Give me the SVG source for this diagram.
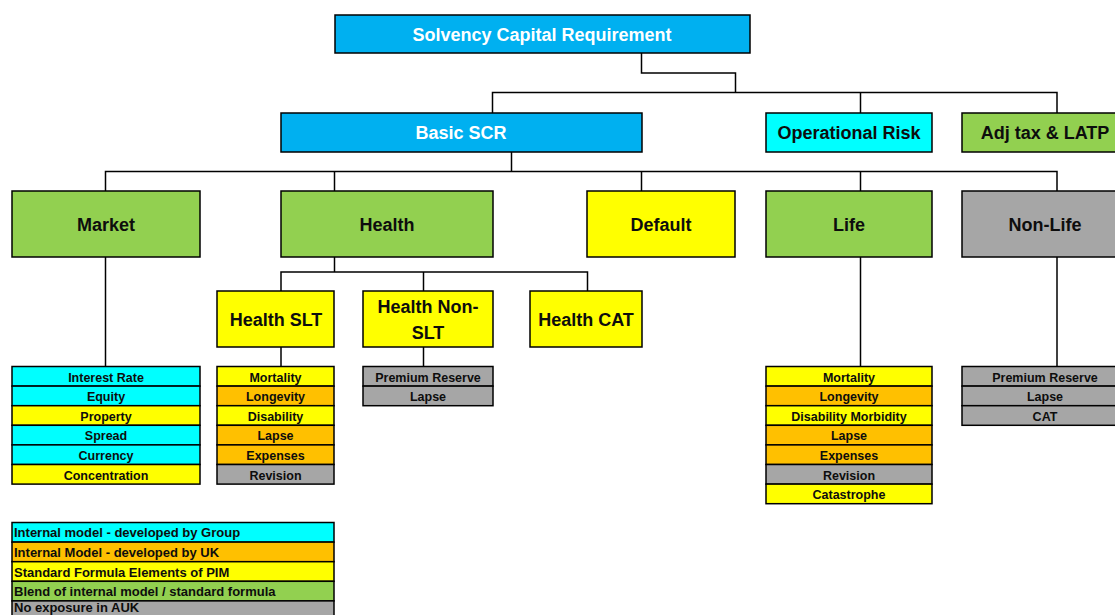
<svg xmlns="http://www.w3.org/2000/svg" width="1115" height="615" viewBox="0 0 1115 615">
<style>
.b{stroke:#000;stroke-width:1.5}
.blue{fill:#00B0F0}.cyan{fill:#00FFFF}.green{fill:#92D050}.yellow{fill:#FFFF00}.gray{fill:#A6A6A6}.orange{fill:#FFC000}
.t{font-family:"Liberation Sans",Arial,sans-serif;font-weight:bold;font-size:18px;fill:#0d0d0d;text-anchor:middle}
.w{fill:#fff}
.r{font-family:"Liberation Sans",Arial,sans-serif;font-weight:bold;font-size:12.5px;fill:#0d0d0d;text-anchor:middle}
.l{font-family:"Liberation Sans",Arial,sans-serif;font-weight:bold;font-size:13px;fill:#0d0d0d}
.c{fill:none;stroke:#000;stroke-width:1.5}
</style>
<rect width="1115" height="615" fill="#fff"/>
<g id="connectors">
<polyline class="c" points="641.5,53 641.5,73 735.5,73 735.5,92"/>
<polyline class="c" points="492.5,113 492.5,92.5 1057,92.5 1057,113"/>
<line class="c" x1="860.5" y1="92.5" x2="860.5" y2="113"/>
<line class="c" x1="511.5" y1="152" x2="511.5" y2="171.5"/>
<polyline class="c" points="105.5,191 105.5,171.5 1057,171.5 1057,191"/>
<line class="c" x1="334.5" y1="171.5" x2="334.5" y2="191"/>
<line class="c" x1="641.5" y1="171.5" x2="641.5" y2="191"/>
<line class="c" x1="860.5" y1="171.5" x2="860.5" y2="191"/>
<line class="c" x1="334.5" y1="257" x2="334.5" y2="272"/>
<polyline class="c" points="281,291 281,272 587.5,272 587.5,291"/>
<line class="c" x1="423.5" y1="272" x2="423.5" y2="291"/>
<line class="c" x1="105.5" y1="257" x2="105.5" y2="366"/>
<line class="c" x1="281" y1="347" x2="281" y2="366"/>
<line class="c" x1="423.5" y1="347" x2="423.5" y2="366"/>
<line class="c" x1="860.5" y1="257" x2="860.5" y2="366"/>
<line class="c" x1="1057" y1="257" x2="1057" y2="366"/>
</g>
<g id="scr"><rect class="b blue" x="335" y="15" width="415" height="38"/><text class="t w" x="542" y="40.5">Solvency Capital Requirement</text></g>
<g id="basic-scr"><rect class="b blue" x="281" y="113" width="361" height="39"/><text class="t w" x="461" y="139">Basic SCR</text></g>
<g id="operational-risk"><rect class="b cyan" x="766" y="113" width="166" height="39"/><text class="t" x="849" y="139">Operational Risk</text></g>
<g id="adj-tax"><rect class="b green" x="962" y="113" width="166" height="39"/><text class="t" x="1045" y="139">Adj tax &amp; LATP</text></g>
<g id="market"><rect class="b green" x="12" y="191" width="188" height="66"/><text class="t" x="106" y="230.5">Market</text></g>
<g id="health"><rect class="b green" x="281" y="191" width="212" height="66"/><text class="t" x="387" y="230.5">Health</text></g>
<g id="default"><rect class="b yellow" x="587" y="191" width="148" height="66"/><text class="t" x="661" y="230.5">Default</text></g>
<g id="life"><rect class="b green" x="766" y="191" width="166" height="66"/><text class="t" x="849" y="230.5">Life</text></g>
<g id="non-life"><rect class="b gray" x="962" y="191" width="166" height="66"/><text class="t" x="1045" y="230.5">Non-Life</text></g>
<g id="health-slt"><rect class="b yellow" x="217" y="291" width="117" height="56"/><text class="t" x="276" y="325.5">Health SLT</text></g>
<g id="health-non-slt"><rect class="b yellow" x="363" y="291" width="130" height="56"/><text class="t" x="428" y="313">Health Non-</text><text class="t" x="428" y="339">SLT</text></g>
<g id="health-cat"><rect class="b yellow" x="530" y="291" width="112" height="56"/><text class="t" x="586" y="325.5">Health CAT</text></g>
<g id="market-list">
<rect class="b cyan" x="12" y="366.5" width="188" height="19.6"/><text class="r" x="106" y="381.5">Interest Rate</text>
<rect class="b cyan" x="12" y="386.1" width="188" height="19.6"/><text class="r" x="106" y="401.1">Equity</text>
<rect class="b yellow" x="12" y="405.7" width="188" height="19.6"/><text class="r" x="106" y="420.7">Property</text>
<rect class="b cyan" x="12" y="425.3" width="188" height="19.6"/><text class="r" x="106" y="440.3">Spread</text>
<rect class="b cyan" x="12" y="444.9" width="188" height="19.6"/><text class="r" x="106" y="459.9">Currency</text>
<rect class="b yellow" x="12" y="464.5" width="188" height="19.6"/><text class="r" x="106" y="479.5">Concentration</text>
</g>
<g id="health-slt-list">
<rect class="b yellow" x="217" y="366.5" width="117" height="19.6"/><text class="r" x="275.5" y="381.5">Mortality</text>
<rect class="b orange" x="217" y="386.1" width="117" height="19.6"/><text class="r" x="275.5" y="401.1">Longevity</text>
<rect class="b yellow" x="217" y="405.7" width="117" height="19.6"/><text class="r" x="275.5" y="420.7">Disability</text>
<rect class="b orange" x="217" y="425.3" width="117" height="19.6"/><text class="r" x="275.5" y="440.3">Lapse</text>
<rect class="b orange" x="217" y="444.9" width="117" height="19.6"/><text class="r" x="275.5" y="459.9">Expenses</text>
<rect class="b gray" x="217" y="464.5" width="117" height="19.6"/><text class="r" x="275.5" y="479.5">Revision</text>
</g>
<g id="health-non-slt-list">
<rect class="b gray" x="363" y="366.5" width="130" height="19.6"/><text class="r" x="428" y="381.5">Premium Reserve</text>
<rect class="b gray" x="363" y="386.1" width="130" height="19.6"/><text class="r" x="428" y="401.1">Lapse</text>
</g>
<g id="life-list">
<rect class="b yellow" x="766" y="366.5" width="166" height="19.6"/><text class="r" x="849" y="381.5">Mortality</text>
<rect class="b orange" x="766" y="386.1" width="166" height="19.6"/><text class="r" x="849" y="401.1">Longevity</text>
<rect class="b yellow" x="766" y="405.7" width="166" height="19.6"/><text class="r" x="849" y="420.7">Disability Morbidity</text>
<rect class="b orange" x="766" y="425.3" width="166" height="19.6"/><text class="r" x="849" y="440.3">Lapse</text>
<rect class="b orange" x="766" y="444.9" width="166" height="19.6"/><text class="r" x="849" y="459.9">Expenses</text>
<rect class="b gray" x="766" y="464.5" width="166" height="19.6"/><text class="r" x="849" y="479.5">Revision</text>
<rect class="b yellow" x="766" y="484.1" width="166" height="19.6"/><text class="r" x="849" y="499.1">Catastrophe</text>
</g>
<g id="non-life-list">
<rect class="b gray" x="962" y="366.5" width="166" height="19.6"/><text class="r" x="1045" y="381.5">Premium Reserve</text>
<rect class="b gray" x="962" y="386.1" width="166" height="19.6"/><text class="r" x="1045" y="401.1">Lapse</text>
<rect class="b gray" x="962" y="405.7" width="166" height="19.6"/><text class="r" x="1045" y="420.7">CAT</text>
</g>
<g id="legend">
<rect class="b cyan" x="12" y="522.5" width="322" height="19.6"/><text class="l" x="14" y="537.3">Internal model - developed by Group</text>
<rect class="b orange" x="12" y="542.1" width="322" height="19.6"/><text class="l" x="14" y="556.9">Internal Model - developed by UK</text>
<rect class="b yellow" x="12" y="561.7" width="322" height="19.6"/><text class="l" x="14" y="576.5">Standard Formula Elements of PIM</text>
<rect class="b green" x="12" y="581.3" width="322" height="19.6"/><text class="l" x="14" y="596.1">Blend of internal model / standard formula</text>
<rect class="b gray" x="12" y="600.9" width="322" height="19.6"/><text class="l" x="14" y="611.8">No exposure in AUK</text>
</g>
</svg>
